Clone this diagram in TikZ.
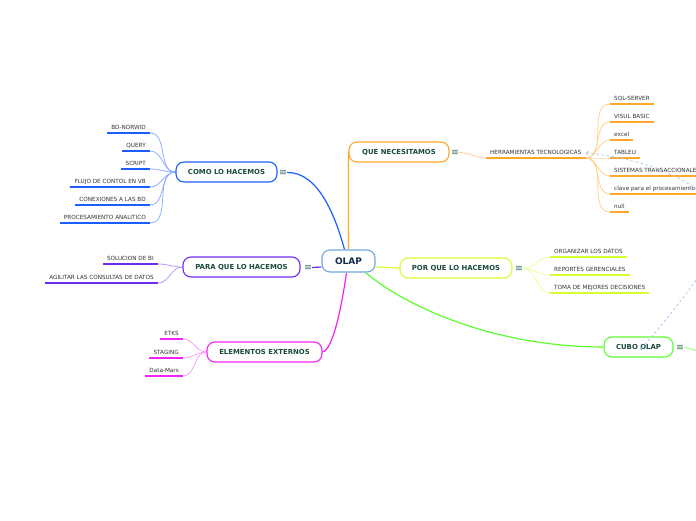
\documentclass[tikz,border=0pt]{standalone}
\usepackage{fontspec}
\setmainfont{DejaVu Sans}
\usetikzlibrary{arrows.meta,backgrounds}
\definecolor{olapazul}{HTML}{6FA8DC}
\definecolor{naranja}{HTML}{FFA62B}
\definecolor{naranjaclaro}{HTML}{FFD28F}
\definecolor{azul}{HTML}{1F5CFF}
\definecolor{azulclaro}{HTML}{8FAEFF}
\definecolor{morado}{HTML}{6E2CF2}
\definecolor{moradoclaro}{HTML}{B99AF7}
\definecolor{magenta}{HTML}{F522F5}
\definecolor{magentaclaro}{HTML}{F9A0F9}
\definecolor{lima}{HTML}{D4FF33}
\definecolor{limaclaro}{HTML}{EBFF9E}
\definecolor{verde}{HTML}{5CFF2E}
\definecolor{verdeclaro}{HTML}{AEFF94}
\definecolor{enlace}{HTML}{A9C9EE}
\definecolor{txtmain}{HTML}{1A4A3C}
\definecolor{txtolap}{HTML}{132C4E}
\definecolor{txtleaf}{HTML}{333333}
\definecolor{menucol}{HTML}{3F7468}
\tikzset{
  olapbox/.style={draw=olapazul, line width=1.1pt, rounded corners=8pt, fill=white,
    minimum width=53pt, minimum height=22pt, font=\fontsize{9}{10}\selectfont\bfseries, text=txtolap},
  mainbox/.style={draw=#1, line width=1.1pt, rounded corners=8pt, fill=white,
    minimum height=20pt, inner xsep=0pt, font=\fontsize{6.9}{8}\selectfont\bfseries, text=txtmain},
  leaf/.style={font=\fontsize{5.7}{7}\selectfont, text=txtleaf, inner xsep=4pt, inner ysep=3pt,
    text height=4.2pt, text depth=0pt,
    append after command={(\tikzlastnode.south west) edge[draw=#1, line width=1.8pt] (\tikzlastnode.south east)}},
  menu/.style={font=\fontsize{9.5}{9.5}\selectfont, text=menucol, inner sep=0pt},
  trunk/.style={draw=#1, line width=1.2pt},
  twig/.style={draw=#1, line width=0.8pt},
  rel/.style={draw=enlace, line width=0.8pt, dash pattern=on 2.5pt off 2.5pt},
}
\begin{document}
\begin{tikzpicture}[x=1pt, y=-1pt]
\clip (0,0) rectangle (696,520);
\node[olapbox] (olap) at (348.5,261) {OLAP};
\node[mainbox=naranja, minimum width=100pt] (que) at (399,152) {QUE NECESITAMOS};
\node[menu] (quem) at (455,152.5) {≡};
\node[mainbox=azul, minimum width=101pt] (como) at (226.5,172) {COMO LO HACEMOS};
\node[menu] (comom) at (283,172.5) {≡};
\node[mainbox=morado, minimum width=117pt] (para) at (241.5,267) {PARA QUE LO HACEMOS};
\node[menu] (param) at (308,267.5) {≡};
\node[mainbox=magenta, minimum width=115pt] (ext) at (264.5,352) {ELEMENTOS EXTERNOS};
\node[mainbox=lima, minimum width=112pt] (porq) at (456,268) {POR QUE LO HACEMOS};
\node[menu] (porqm) at (519,268.5) {≡};
\node[mainbox=verde, minimum width=69pt] (cubo) at (638.5,347) {CUBO OLAP};
\node[menu] (cubom) at (680,347.5) {≡};

\node[leaf=azul, anchor=south east] (bd) at (150,133) {BD-NORWID};
\node[leaf=azul, anchor=south east] (query) at (150,151) {QUERY};
\node[leaf=azul, anchor=south east] (script) at (150,169) {SCRIPT};
\node[leaf=azul, anchor=south east] (flujo) at (150,187) {FLUJO DE CONTOL EN VB};
\node[leaf=azul, anchor=south east] (conex) at (150,205) {CONEXIONES A LAS BD};
\node[leaf=azul, anchor=south east] (proc) at (150,223) {PROCESAMIENTO ANALITICO};

\node[leaf=morado, anchor=south east] (sol) at (158,264) {SOLUCION DE BI};
\node[leaf=morado, anchor=south east] (agil) at (158,283) {AGILITAR LAS CONSULTAS DE DATOS};

\node[leaf=magenta, anchor=south east] (etks) at (183,339) {ETKS};
\node[leaf=magenta, anchor=south east] (stag) at (183,358) {STAGING};
\node[leaf=magenta, anchor=south east] (dmars) at (183,376) {Data-Mars};

\node[leaf=naranja, anchor=south west] (herr) at (486,158) {HERRAMIENTAS TECNOLOGICAS};
\node[leaf=naranja, anchor=south west] (sql) at (610,104) {SQL-SERVER};
\node[leaf=naranja, anchor=south west] (vb) at (610,122) {VISUL BASIC};
\node[leaf=naranja, anchor=south west] (excel) at (610,140) {excel};
\node[leaf=naranja, anchor=south west] (tab) at (610,158) {TABLEU};
\node[leaf=naranja, anchor=south west] (sist) at (610,176) {SISTEMAS TRANSACCIONALES};
\node[leaf=naranja, anchor=south west] (clave) at (610,194) {clave para el procesamiento de datos};
\node[leaf=naranja, anchor=south west] (null) at (610,212) {null};

\node[leaf=lima, anchor=south west] (org) at (550,257) {ORGANIZAR LOS DATOS};
\node[leaf=lima, anchor=south west] (rep) at (550,275) {REPORTES GERENCIALES};
\node[leaf=lima, anchor=south west] (toma) at (550,293) {TOMA DE MEJORES DECISIONES};

\coordinate (fuera1) at (705,195);
\coordinate (fuera2) at (705,268);
\coordinate (fuera3) at (700,351);

\begin{scope}[on background layer]
\draw[trunk=naranja] (olap.north) -- (que.west);
\draw[trunk=azul] ([xshift=-4pt]olap.north) .. controls (335,215) and (318,172) .. (comom.east);
\draw[trunk=morado] ([yshift=-6pt]olap.west) -- (param.east);
\draw[trunk=magenta] ([xshift=-2pt]olap.south) .. controls (342,305) and (333,350) .. (ext.east);
\draw[trunk=lima] ([yshift=-6pt]olap.east) to[out=0,in=180] (porq.west);
\draw[trunk=verde] ([xshift=-10pt]olap.south east) .. controls (410,310) and (500,347) .. (cubo.west);

\draw[twig=azulclaro] (como.west) to[out=180,in=0] (bd.south east);
\draw[twig=azulclaro] (como.west) to[out=180,in=0] (query.south east);
\draw[twig=azulclaro] (como.west) to[out=180,in=0] (script.south east);
\draw[twig=azulclaro] (como.west) to[out=180,in=0] (flujo.south east);
\draw[twig=azulclaro] (como.west) to[out=180,in=0] (conex.south east);
\draw[twig=azulclaro] (como.west) to[out=180,in=0] (proc.south east);

\draw[twig=moradoclaro] (para.west) to[out=180,in=0] (sol.south east);
\draw[twig=moradoclaro] (para.west) to[out=180,in=0] (agil.south east);

\draw[twig=magentaclaro] (ext.west) to[out=180,in=0] (etks.south east);
\draw[twig=magentaclaro] (ext.west) to[out=180,in=0] (stag.south east);
\draw[twig=magentaclaro] (ext.west) to[out=180,in=0] (dmars.south east);

\draw[twig=naranjaclaro] (quem.east) to[out=0,in=180] (herr.south west);
\draw[twig=naranjaclaro] (herr.south east) to[out=0,in=180] (sql.south west);
\draw[twig=naranjaclaro] (herr.south east) to[out=0,in=180] (vb.south west);
\draw[twig=naranjaclaro] (herr.south east) to[out=0,in=180] (excel.south west);
\draw[twig=naranjaclaro] (herr.south east) to[out=0,in=180] (tab.south west);
\draw[twig=naranjaclaro] (herr.south east) to[out=0,in=180] (sist.south west);
\draw[twig=naranjaclaro] (herr.south east) to[out=0,in=180] (clave.south west);
\draw[twig=naranjaclaro] (herr.south east) to[out=0,in=180] (null.south west);

\draw[twig=limaclaro] (porqm.east) to[out=0,in=180] (org.south west);
\draw[twig=limaclaro] (porqm.east) to[out=0,in=180] (rep.south west);
\draw[twig=limaclaro] (porqm.east) to[out=0,in=180] (toma.south west);

\draw[trunk=verdeclaro] (cubom.east) to[out=0,in=180] (fuera3);
\end{scope}

\draw[rel, {Straight Barb[length=2pt,width=4pt]}-] (herr.east) .. controls (630,158) and (670,168) .. (fuera1);
\draw[rel, {Circle[length=2.5pt]}-] ([shift={(1.5pt,-3pt)}]cubo.center) .. controls (665,322) and (688,292) .. (fuera2);
\end{tikzpicture}
\end{document}
